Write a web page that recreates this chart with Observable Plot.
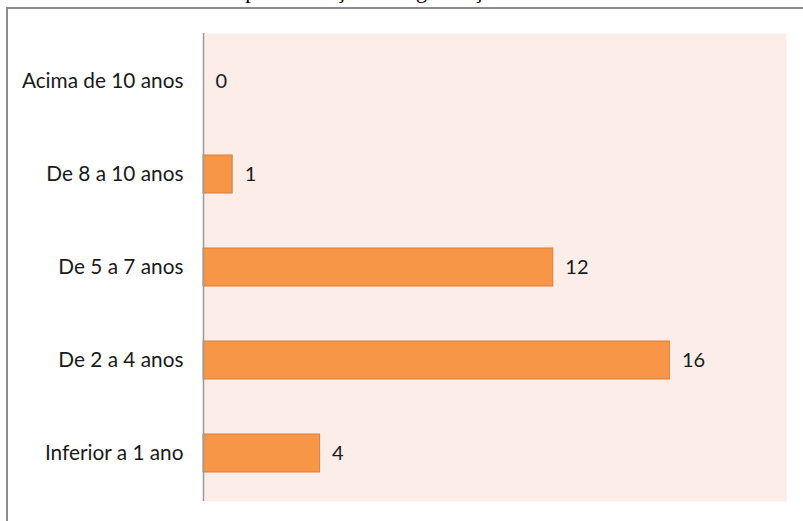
<!DOCTYPE html>
<html>
<head>
<meta charset="utf-8">
<script src="https://cdn.jsdelivr.net/npm/d3@7"></script>
<script src="https://cdn.jsdelivr.net/npm/@observablehq/plot@0.6"></script>
<style>
  html, body { margin: 0; padding: 0; background: #fff; width: 803px; height: 521px; overflow: hidden; position: relative; }
  #title { position: absolute; left: 0; width: 770px; top: -20px; text-align: center; font-family: "Liberation Serif", serif; font-size: 22px; line-height: 22px; color: #000; white-space: nowrap; }
  #frame { position: absolute; left: 6px; top: 7px; width: 820px; height: 540px; border: 2px solid #8c8c8c; box-sizing: border-box; }
  #chart { position: absolute; left: 0; top: 0; }
</style>
</head>
<body>
<div id="title">Gráfico 3 – Tempo de atuação na organização dos colaboradores</div>
<div id="frame"></div>
<div id="chart"></div>
<script>
const categories = ["Acima de 10 anos", "De 8 a 10 anos", "De 5 a 7 anos", "De 2 a 4 anos", "Inferior a 1 ano"];
const values = [0, 1, 12, 16, 4];

const data = categories.map((c, i) => ({category: c, value: values[i]}));
const font = "Lato, 'Liberation Sans', sans-serif";

const chart = Plot.plot({
  width: 803,
  height: 521,
  marginLeft: 203,
  marginRight: 17,
  marginTop: 33,
  marginBottom: 20,
  style: {fontFamily: font, fontSize: "20.8px", color: "#1a1a1a", background: "transparent"},
  x: {domain: [0, 20], axis: null},
  y: {domain: categories, paddingInner: 0.59, paddingOuter: 0.295, label: null, tickSize: 0, tickPadding: 20},
  marks: [
    Plot.frame({fill: "#fcede9", stroke: null}),
    Plot.barX(data, {y: "category", x: "value", fill: "#f79646", stroke: "#d97f3c", strokeWidth: 1}),
    Plot.ruleX([0], {stroke: "#9a9a9a", strokeWidth: 1.5}),
    Plot.text(data, {y: "category", x: "value", text: d => String(d.value), dx: 12, textAnchor: "start", fill: "#1a1a1a", fontSize: 20})
  ]
});
document.getElementById("chart").appendChild(chart);
</script>
</body>
</html>
